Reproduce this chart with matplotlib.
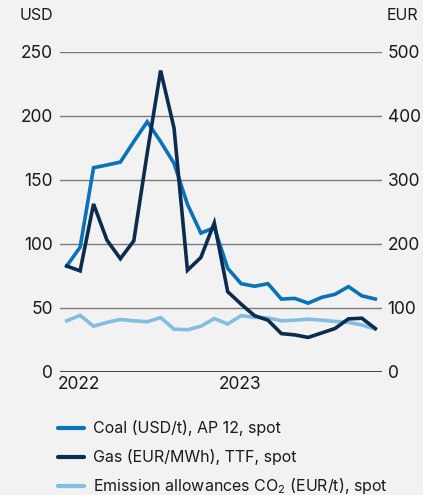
import matplotlib
matplotlib.use("Agg")
import matplotlib.pyplot as plt
import numpy as np

plt.rcParams['font.family'] = ['Inter', 'DejaVu Sans']
plt.rcParams['mathtext.fontset'] = 'custom'
plt.rcParams['mathtext.rm'] = 'Inter'

# monthly spot prices, Jan 2022 - Dec 2023
months = np.arange(24)
coal_usd = [82.8, 97.5, 159.6, 161.7, 164, 180, 195.5, 180, 163, 131, 108.5, 112.8,
            81, 69, 67, 69, 57, 57.5, 53.8, 58.3, 60.7, 66.7, 59.5, 57]
gas_eur = [165.6, 158, 262.5, 206, 177, 205, 342, 471, 381, 159, 179, 233,
           125.5, 106, 88, 81, 60, 58, 54, 61, 68, 83, 84, 68]
co2_eur = [80, 88.5, 71.5, 77.5, 82, 80, 78.5, 85, 67, 66, 71.5, 83.5,
           75, 88, 85.5, 84.5, 80, 81, 82.5, 81, 79, 77.5, 73.5, 67]

year_labels = ['2022', '2023']
year_pos = [-0.5, 11.5]
left_ticks = [0, 50, 100, 150, 200, 250]
right_ticks = [0, 100, 200, 300, 400, 500]

c_coal = '#0A72B8'
c_gas = '#0B2C4E'
c_co2 = '#82BDE2'
bg = '#F2F2F2'
txt = '#1A1A1A'

fig = plt.figure(figsize=(4.23, 4.95), dpi=100, facecolor=bg)
ax = fig.add_axes([60/423, 123/495, 322/423, 320/495])
ax.set_facecolor(bg)
ax2 = ax.twinx()

ax.set_xlim(-0.5, 23.5)
ax.set_ylim(0, 250)
ax2.set_ylim(0, 500)

for y in left_ticks[1:]:
    ax.axhline(y, color='#7A7A7A', lw=1.0, zorder=0)
ax.axhline(0, color='#222222', lw=1.2, zorder=0)

ax.plot(months, coal_usd, color=c_coal, lw=2.6, solid_joinstyle='miter', zorder=3)
ax2.plot(months, co2_eur, color=c_co2, lw=2.6, solid_joinstyle='miter', zorder=2)
ax2.plot(months, gas_eur, color=c_gas, lw=2.6, solid_joinstyle='miter', zorder=4)

for a in (ax, ax2):
    for s in a.spines.values():
        s.set_visible(False)
ax.set_yticks(left_ticks)
ax2.set_yticks(right_ticks)
ax.tick_params(axis='y', length=0, pad=5, labelsize=12.5, labelcolor=txt)
ax2.tick_params(axis='y', length=0, pad=4, labelsize=12.5, labelcolor=txt)
ax.set_xticks([])

for lab, xp in zip(year_labels, year_pos):
    ax.text(xp - 0.15, -3.5, lab, ha='left', va='top', fontsize=12.5, color=txt)

fig.text(20/423, 1 - 16/495, 'USD', ha='left', va='center', fontsize=11.5, color=txt)
fig.text(387/423, 1 - 16/495, 'EUR', ha='left', va='center', fontsize=11.5, color=txt)

# legend
legend_items = [('Coal (USD/t), AP 12, spot', c_coal),
                ('Gas (EUR/MWh), TTF, spot', c_gas),
                ('Emission allowances CO$_2$ (EUR/t), spot', c_co2)]
for i, (lab, col) in enumerate(legend_items):
    yy = 1 - (428 + i * 29) / 495
    fig.add_artist(plt.Line2D([58/423, 84/423], [yy, yy], color=col, lw=3,
                              solid_capstyle='round', transform=fig.transFigure))
    fig.text(93/423, yy, lab, ha='left', va='center', fontsize=11.5, color=txt)

fig.savefig('out.png', dpi=100, facecolor=bg)
